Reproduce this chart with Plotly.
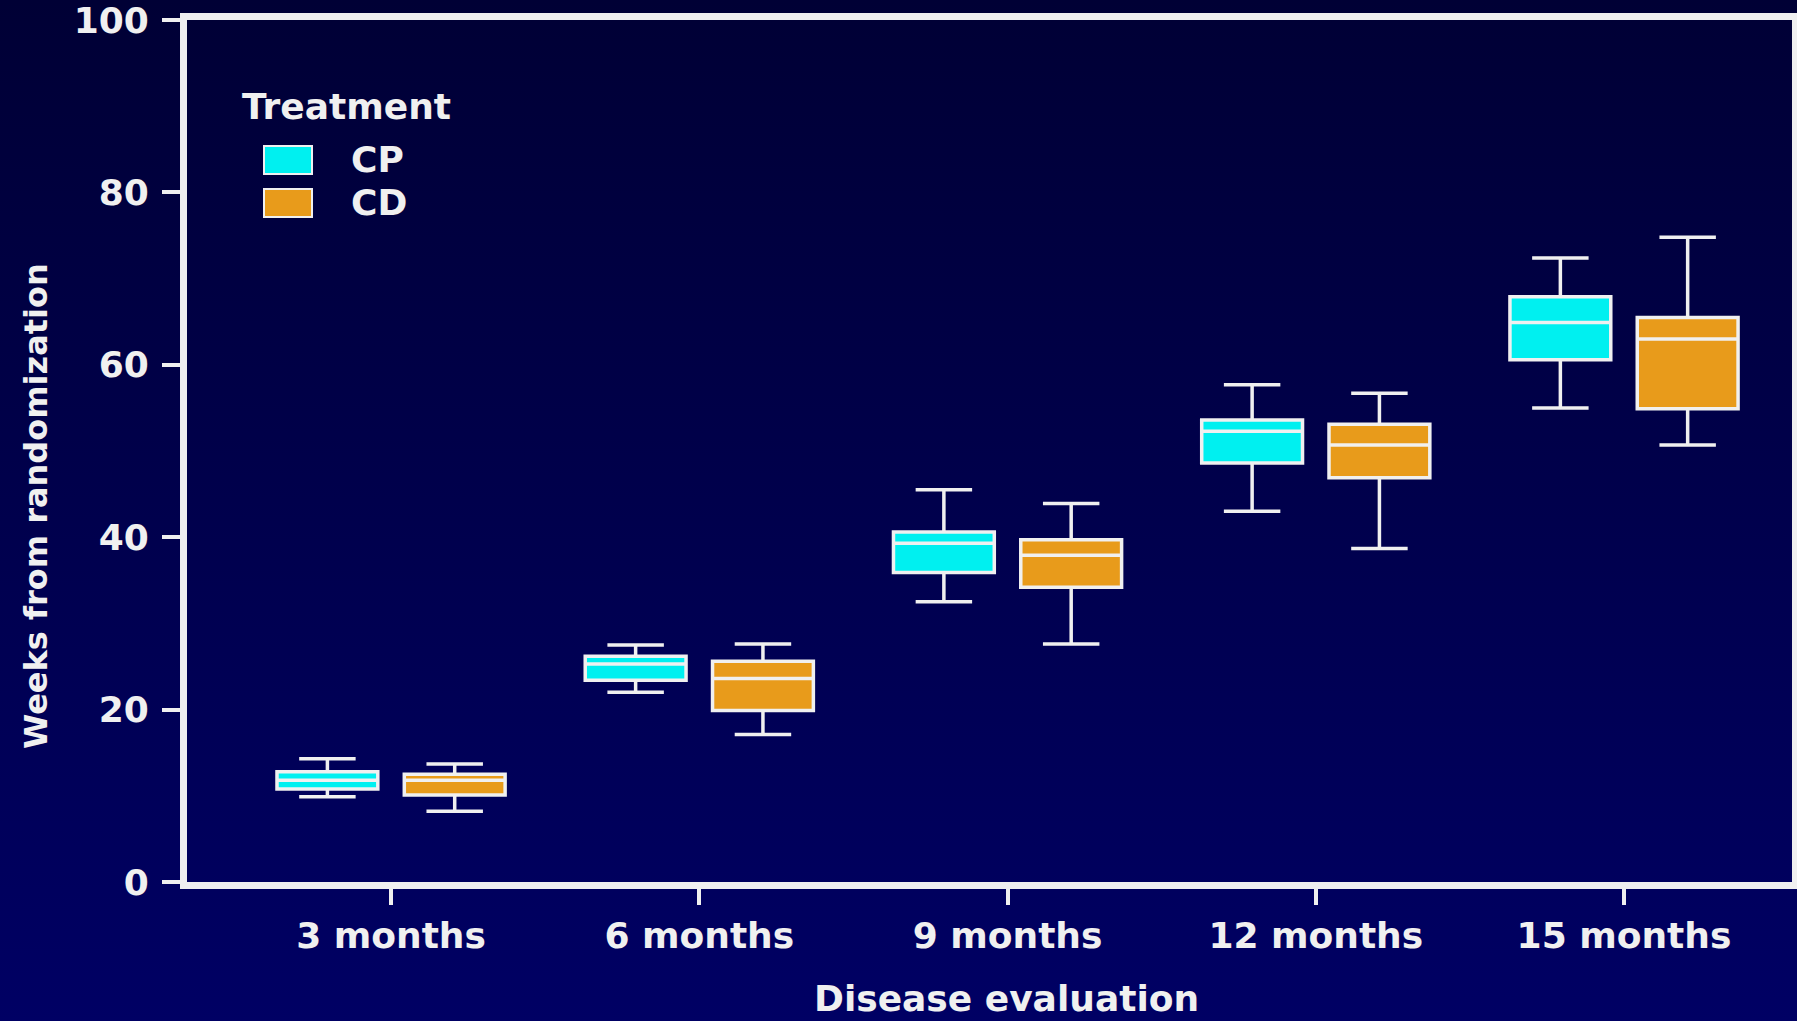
import base64
import plotly.graph_objects as go

# ---------------- data ----------------
categories = ["3 months", "6 months", "9 months", "12 months", "15 months"]

cp_low = [9.9, 22.0, 32.5, 43.0, 55.0]
cp_q1 = [10.8, 23.4, 35.9, 48.6, 60.6]
cp_med = [11.8, 25.3, 39.3, 52.3, 64.9]
cp_q3 = [12.8, 26.2, 40.6, 53.6, 67.9]
cp_high = [14.3, 27.5, 45.5, 57.7, 72.4]

cd_low = [8.2, 17.1, 27.6, 38.7, 50.7]
cd_q1 = [10.1, 19.9, 34.2, 46.9, 54.9]
cd_med = [11.8, 23.6, 37.9, 50.7, 63.0]
cd_q3 = [12.5, 25.6, 39.7, 53.1, 65.5]
cd_high = [13.7, 27.6, 43.9, 56.7, 74.8]

y_ticks = [0, 20, 40, 60, 80, 100]
legend_title = "Treatment"
series_names = ["CP", "CD"]
x_title = "Disease evaluation"
y_title = "Weeks from randomization"

# ---------------- style ----------------
W, H = 1797, 1021
ML, MR, MT, MB = 187, 5, 20, 139
PW, PH = W - ML - MR, H - MT - MB
WHITE = "#f0f0f0"
CYAN = "#00f0f0"
ORANGE = "#e89b1b"
FONT = "DejaVu Sans"


def px_x(px):
    return (px - ML) / PW


def px_y(py):
    return (H - MB - py) / PH


fig = go.Figure()

for name, low, q1, med, q3, high, color in [
    (series_names[0], cp_low, cp_q1, cp_med, cp_q3, cp_high, CYAN),
    (series_names[1], cd_low, cd_q1, cd_med, cd_q3, cd_high, ORANGE),
]:
    fig.add_trace(go.Box(
        name=name,
        x=categories,
        lowerfence=low,
        q1=q1,
        median=med,
        q3=q3,
        upperfence=high,
        fillcolor=color,
        line=dict(color=WHITE, width=3.5),
        whiskerwidth=0.56,
        boxpoints=False,
        showlegend=False,
        hoverinfo="skip",
    ))

# background gradient
svg = (
    '<svg xmlns="http://www.w3.org/2000/svg" width="100" height="100" '
    'viewBox="0 0 100 100" preserveAspectRatio="none">'
    '<defs><linearGradient id="g" x1="0" y1="0" x2="0" y2="1">'
    '<stop offset="0" stop-color="#000035"/>'
    '<stop offset="1" stop-color="#000064"/>'
    '</linearGradient></defs>'
    '<rect x="0" y="0" width="100" height="100" fill="url(#g)"/></svg>'
)
src = "data:image/svg+xml;base64," + base64.b64encode(svg.encode()).decode()

fig.add_layout_image(dict(
    source=src, xref="paper", yref="paper",
    x=-ML / PW, y=1 + MT / PH, sizex=W / PW, sizey=H / PH,
    xanchor="left", yanchor="top", sizing="stretch", layer="below",
))

# manual legend
shapes = []
annotations = []
annotations.append(dict(
    text=legend_title, xref="paper", yref="paper", x=px_x(240), y=px_y(107),
    xanchor="left", yanchor="middle", showarrow=False,
    font=dict(family=FONT, size=36, color=WHITE, weight="bold"),
))
for i, (nm, col) in enumerate(zip(series_names, [CYAN, ORANGE])):
    top = 146 + i * 43
    shapes.append(dict(
        type="rect", xref="paper", yref="paper",
        x0=px_x(264), x1=px_x(312), y0=px_y(top), y1=px_y(top + 28),
        fillcolor=col, line=dict(color=WHITE, width=2),
    ))
    annotations.append(dict(
        text=nm, xref="paper", yref="paper", x=px_x(349), y=px_y(top + 14),
        xanchor="left", yanchor="middle", showarrow=False,
        font=dict(family=FONT, size=36, color=WHITE, weight="bold"),
    ))

annotations.append(dict(
    text=x_title, xref="paper", yref="paper", x=px_x(1006), y=px_y(998),
    xanchor="center", yanchor="middle", showarrow=False,
    font=dict(family=FONT, size=36, color=WHITE, weight="bold"),
))
annotations.append(dict(
    text=y_title, xref="paper", yref="paper", x=px_x(36), y=px_y(506),
    xanchor="center", yanchor="middle", showarrow=False, textangle=-90,
    font=dict(family=FONT, size=32, color=WHITE, weight="bold"),
))

fig.update_layout(
    width=W, height=H,
    margin=dict(l=ML, r=MR, t=MT, b=MB, pad=0, autoexpand=False),
    paper_bgcolor="#00004a",
    plot_bgcolor="rgba(0,0,0,0)",
    boxmode="group",
    boxgap=0.174,
    boxgroupgap=0.208,
    shapes=shapes,
    annotations=annotations,
    showlegend=False,
    font=dict(family=FONT, color=WHITE),
)

fig.update_xaxes(
    type="category",
    categoryorder="array", categoryarray=categories,
    range=[-0.662, 4.545],
    automargin=False,
    showgrid=False, zeroline=False,
    showline=True, linecolor=WHITE, linewidth=7, mirror=True,
    ticks="outside", ticklen=16, tickwidth=4, tickcolor=WHITE,
    tickfont=dict(family=FONT, size=36, color=WHITE, weight="bold"),
)
fig.update_yaxes(
    range=[0, 100],
    tickvals=y_ticks,
    automargin=False,
    showgrid=False, zeroline=False,
    showline=True, linecolor=WHITE, linewidth=7, mirror=True,
    ticks="outside", ticklen=18, tickwidth=4, tickcolor=WHITE,
    ticklabeloverflow="allow", ticklabelstandoff=6,
    tickfont=dict(family=FONT, size=36, color=WHITE, weight="bold"),
)

fig.write_html("out.html")
